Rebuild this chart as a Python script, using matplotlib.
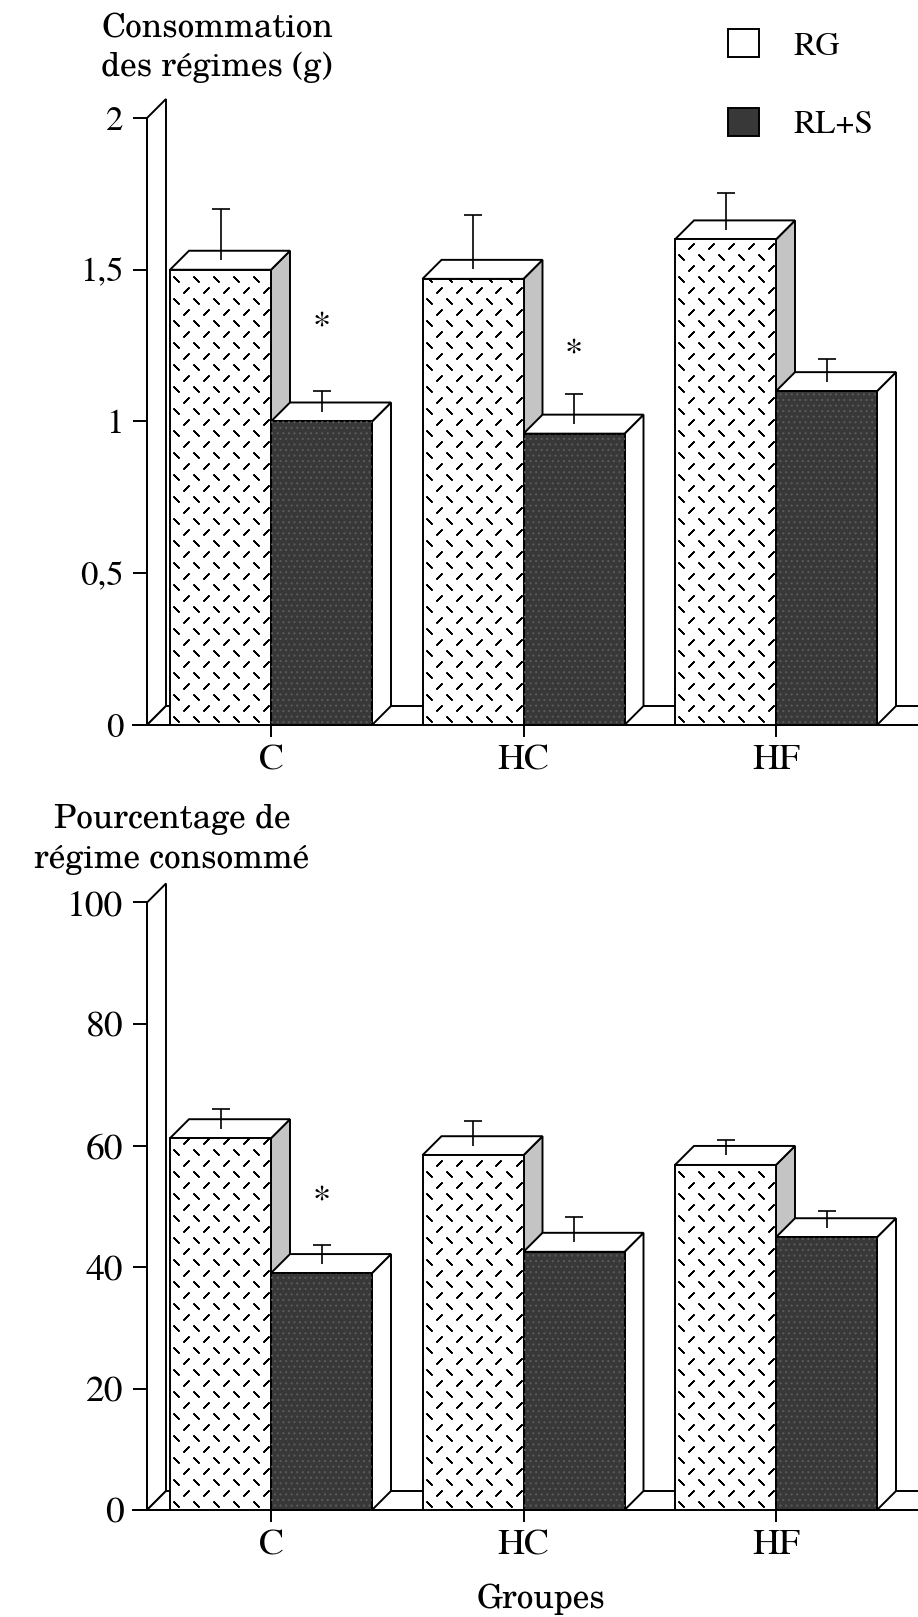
import numpy as np
import matplotlib.pyplot as plt
from matplotlib.patches import Polygon, Patch

plt.rcParams['font.family'] = ['TeX Gyre Termes', 'Liberation Serif', 'DejaVu Serif']

groupes = ['C', 'HC', 'HF']
series = ['RG', 'RL+S']

# consommation des regimes (g)
conso_rg = [1.50, 1.47, 1.60]
conso_rg_err = [0.17, 0.18, 0.12]
conso_rls = [1.00, 0.96, 1.10]
conso_rls_err = [0.07, 0.10, 0.075]
conso_etoiles = [1.31, 1.22, None]      # hauteur des * au-dessus de RL+S
conso_ticks = [0, 0.5, 1, 1.5, 2]
conso_ticklabels = ['0', '0,5', '1', '1,5', '2']

# pourcentage de regime consomme
pct_rg = [61.2, 58.4, 56.8]
pct_rg_err = [3.3, 4.0, 2.6]
pct_rls = [39.0, 42.5, 44.9]
pct_rls_err = [3.1, 4.1, 2.8]
pct_etoiles = [50.7, None, None]
pct_ticks = [0, 20, 40, 60, 80, 100]
pct_ticklabels = ['0', '20', '40', '60', '80', '100']

W, H = 918, 1617
X0 = 271.0      # pixel of first group
XS = 252.5      # pixels per group
w = 0.4         # bar width (data)
DEPTH = 19      # 3d depth in pixels
dark = '#383838'
side_grey = '#c4c4c4'
lw = 1.4

fig = plt.figure(figsize=(W / 100, H / 100), dpi=100)


def panel(y0px, yscale, top_px, bot_px, rg, rg_err, rls, rls_err, etoiles,
          ticks, ticklabels, ylab_size):
    ax = fig.add_axes([0, 1 - bot_px / H, 1, (bot_px - top_px) / H])
    ax.set_xlim(-X0 / XS, (W - X0) / XS)
    ax.set_ylim((y0px - bot_px) / yscale, (y0px - top_px) / yscale)
    ax.patch.set_visible(False)
    ddx = DEPTH / XS
    ddy = DEPTH / yscale
    x_ax = (147 - X0) / XS
    x_right = (W + 40 - X0) / XS
    ymax = ticks[-1]

    # axes lines
    for s in ['top', 'right']:
        ax.spines[s].set_visible(False)
    ax.spines['left'].set_position(('data', x_ax))
    ax.spines['left'].set_bounds(0, ymax)
    ax.spines['bottom'].set_position(('data', 0))
    ax.spines['bottom'].set_bounds((133 - X0) / XS, x_right)
    for s in ['left', 'bottom']:
        ax.spines[s].set_linewidth(lw)
    ax.set_yticks(ticks)
    ax.set_yticklabels(ticklabels)
    ax.set_xticks(range(len(groupes)))
    ax.set_xticklabels(groupes)
    ax.tick_params(axis='y', direction='out', length=10, width=lw, pad=7,
                   labelsize=ylab_size)
    ax.tick_params(axis='x', direction='out', length=8.6, width=lw, pad=5,
                   labelsize=27)

    # back wall and floor
    wall = Polygon([(x_ax, 0), (x_ax, ymax), (x_ax + ddx, ymax + ddy),
                    (x_ax + ddx, ddy)], closed=True, facecolor='white',
                   edgecolor='black', lw=lw, zorder=1)
    ax.add_patch(wall)
    floor = Polygon([(x_ax, 0), (x_right, 0), (x_right + ddx, ddy),
                     (x_ax + ddx, ddy)], closed=True, facecolor='white',
                    edgecolor='black', lw=lw, zorder=1)
    ax.add_patch(floor)

    x = np.arange(len(groupes))
    for vals, left, sidecol in [(rg, x - w, side_grey), (rls, x, 'white')]:
        for xl, v in zip(left, vals):
            side = Polygon([(xl + w, 0), (xl + w + ddx, ddy),
                            (xl + w + ddx, v + ddy), (xl + w, v)],
                           closed=True, facecolor=sidecol, edgecolor='black',
                           lw=lw, zorder=2)
            ax.add_patch(side)
            top = Polygon([(xl, v), (xl + ddx, v + ddy),
                           (xl + w + ddx, v + ddy), (xl + w, v)],
                          closed=True, facecolor='white', edgecolor='black',
                          lw=lw, zorder=2)
            ax.add_patch(top)

    bars_rg = ax.bar(x - w / 2, rg, width=w, facecolor='white',
                     edgecolor='black', lw=lw, zorder=3)
    ax.bar(x + w / 2, rls, width=w, facecolor=dark, edgecolor='black',
           lw=lw, zorder=3)
    plt.rcParams['hatch.linewidth'] = 0.8
    ax.bar(x + w / 2, rls, width=w, facecolor='none', edgecolor='#5a5a5a',
           lw=0, hatch='...', zorder=3.2)

    # dash motif on RG fronts
    for b, xl, v in zip(bars_rg, x - w, rg):
        pa, pb = [], []
        row = 0
        yy = 6 / yscale
        while yy < v:
            off = 0 if row % 2 == 0 else 10
            xx = xl + (6 + off) / XS
            while xx < xl + w:
                (pa if row % 2 == 0 else pb).append((xx, yy))
                xx += 20 / XS
            yy += 11 / yscale
            row += 1
        for pts, ang in [(pa, 45), (pb, -45)]:
            pts = np.array(pts)
            sc = ax.scatter(pts[:, 0], pts[:, 1], marker=(2, 2, ang), s=26,
                            color='black', linewidths=1.1, zorder=3.5)
            sc.set_clip_path(b)

    # error bars
    cap = 9 / XS
    for xc, vals, errs in [(x - w / 2, rg, rg_err), (x + w / 2, rls, rls_err)]:
        base = np.array(vals) + ddy / 2
        tops = base + np.array(errs)
        ax.vlines(xc, base, tops, color='black', lw=1.2, zorder=4)
        ax.hlines(tops, xc - cap, xc + cap, color='black', lw=1.2, zorder=4)

    for xc, e in zip(x + w / 2, etoiles):
        if e is not None:
            ax.text(xc, e, '*', fontsize=26, ha='center', va='center')
    return ax


panel(725, 303.5, 90, 800, conso_rg, conso_rg_err, conso_rls, conso_rls_err,
      conso_etoiles, conso_ticks, conso_ticklabels, 25)
panel(1510, 6.075, 880, 1600, pct_rg, pct_rg_err, pct_rls, pct_rls_err,
      pct_etoiles, pct_ticks, pct_ticklabels, 27)

titre = dict(fontfamily=['TeX Gyre Schola', 'DejaVu Serif'], fontsize=24,
             ha='center', va='baseline')
fig.text(217 / W, 1 - 37 / H, 'Consommation', **titre)
fig.text(217 / W, 1 - 76 / H, 'des régimes (g)', **titre)
fig.text(172 / W, 1 - 828 / H, 'Pourcentage de', **titre)
fig.text(172 / W, 1 - 868 / H, 'régime consommé', **titre)
fig.text(541 / W, 1 - 1608 / H, 'Groupes', **titre)

handles = [Patch(facecolor='white', edgecolor='black', lw=lw),
           Patch(facecolor=dark, edgecolor='black', lw=lw)]
fig.legend(handles, series, loc='upper left',
           bbox_to_anchor=(728 / W, 1 - 29 / H), frameon=False, borderpad=0,
           borderaxespad=0, handlelength=0.92, handleheight=0.92,
           handletextpad=1.05, labelspacing=1.38,
           prop={'family': ['TeX Gyre Termes', 'Liberation Serif'],
                 'size': 24})

fig.savefig('out.png', dpi=100)
